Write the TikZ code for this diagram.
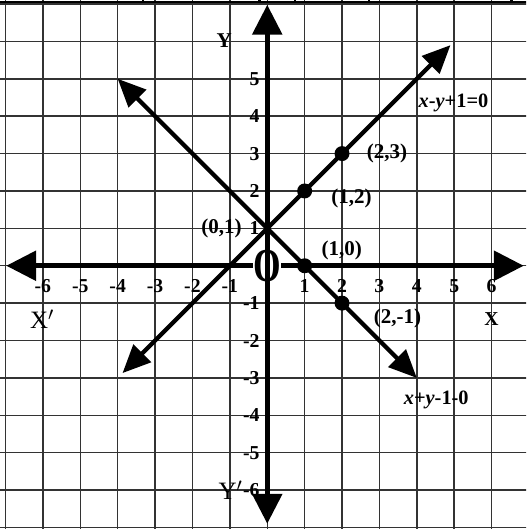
\documentclass[tikz,border=0pt]{standalone}
\usepackage{fontspec}
\setmainfont{Liberation Serif}
\usetikzlibrary{arrows.meta,positioning}

\begin{document}
\begin{tikzpicture}[
  node distance = 4mm and 4mm,
  gridline/.style  = {draw=black!80, line width=1.1pt},
  edge/.style      = {line width=1.8pt},
  axis/.style      = {line width=4pt,
                      {Triangle[length=8mm,width=7.8mm]}-{Triangle[length=8mm,width=7.8mm]}},
  graph/.style     = {line width=3.2pt,
                      {Triangle[length=7.5mm,width=6.5mm]}-{Triangle[length=7.5mm,width=6.5mm]}},
  dot/.style       = {circle, fill=black, inner sep=0pt, minimum size=4mm},
  ticklabel/.style = {inner sep=0pt, font=\fontsize{15}{16}\selectfont\bfseries},
  ptlabel/.style   = {inner sep=0pt, font=\fontsize{16}{17}\selectfont\bfseries},
  eqlabel/.style   = {inner sep=0pt, font=\fontsize{15.5}{16}\selectfont\bfseries},
  axislabel/.style = {inner sep=0pt, font=\fontsize{19}{20}\selectfont}
]
  \clip (-7.147,-7.04) rectangle (6.92,7.107);

  % Graph paper
  \draw[gridline] (-8,-8) grid (8,8);
  \draw[edge] (-7.2,7.06) -- (7,7.06);
  \foreach \t in {-3.33,-0.21,0.75,2.72,6.53}
    \draw[edge] (\t,7.06) -- (\t,7.3);

  % Axes
  \coordinate (xl) at (-6.98,0);
  \coordinate (xr) at (6.86,0);
  \coordinate (yb) at (0,-6.9);
  \coordinate (yt) at (0,6.98);
  \draw[axis] (xl) -- (xr);
  \node[fill=white, inner sep=0pt] (orig) at (0,0)
    {\scalebox{0.75}[1]{\fontsize{36}{36}\selectfont\bfseries O}};
  \draw[axis] (yb) -- (yt);

  % Tick labels
  \foreach \x in {-6,...,-1,1,2,...,6}
    \node[ticklabel] (xt\x) at (\x,-0.54) {\x};
  \foreach \y in {-6,...,-1,1,2,...,5}
    \node[ticklabel, anchor=east] (yt\y) at (-0.2,\y) {\y};

  % Axis names
  \node[axislabel, font=\fontsize{16}{17}\selectfont\bfseries] (ylab) at (-1.15,6.02) {Y};
  \node[axislabel, left=0mm of yt-6] (ylabm) {Y$'$};
  \node[axislabel] (xlabm) at (-6.02,-1.43) {X$'$};
  \node[axislabel, font=\fontsize{15}{16}\selectfont\bfseries] (xlab) at (6.0,-1.43) {X};

  % Lines x-y+1=0 and x+y-1=0
  \coordinate (la) at (-3.87,-2.87);
  \coordinate (lb) at (4.9,5.9);
  \coordinate (ma) at (-4,5);
  \coordinate (mb) at (4,-3);
  \draw[graph] (la) -- (lb);
  \draw[graph] (ma) -- (mb);

  % Points
  \coordinate (p01) at (0,1);
  \node[dot] (p23)  at (2,3)  {};
  \node[dot] (p12)  at (1,2)  {};
  \node[dot] (p10)  at (1,0)  {};
  \node[dot] (p2m1) at (2,-1) {};

  \node[ptlabel, right=4.5mm of p23]              (l23)  {(2,3)};
  \node[ptlabel, right=5mm of p12, yshift=-2mm]   (l12)  {(1,2)};
  \node[ptlabel, above right=0mm and 3mm of p10]  (l10)  {(1,0)};
  \node[ptlabel, below right=0mm and 7mm of p2m1] (l2m1) {(2,-1)};
  \node[ptlabel, left=6.8mm of p01]               (l01)  {(0,1)};

  % Equations
  \node[eqlabel] (eq1) at (4.98,4.36) {\textit{x}-\textit{y}+1=0};
  \node[eqlabel] (eq2) at (4.52,-3.59) {\textit{x}+\textit{y}-1-0};
\end{tikzpicture}
\end{document}
